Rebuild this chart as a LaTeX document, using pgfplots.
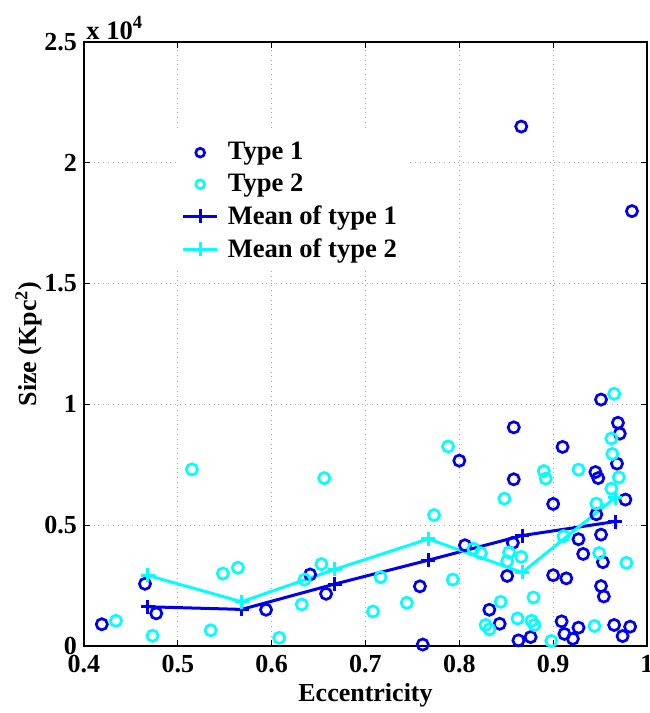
\documentclass[border=0pt]{standalone}
\usepackage{fontspec}
\setmainfont{Liberation Serif}
\usepackage{pgfplots}
\pgfplotsset{compat=1.18}
\definecolor{mblue}{rgb}{0,0,0.93}
\definecolor{mcyan}{rgb}{0,1,1}
\begin{document}
\begin{tikzpicture}
\begin{axis}[
  scale only axis,
  width=281.5pt, height=302pt,
  xmin=0.4, xmax=1, ymin=0, ymax=25000,
  xtick={0.4,0.5,0.6,0.7,0.8,0.9,1},
  xticklabels={0.4,0.5,0.6,0.7,0.8,0.9,1},
  ytick={0,5000,10000,15000,20000,25000},
  yticklabels={0,0.5,1,1.5,2,2.5},
  scaled y ticks=false,
  tick label style={font=\bfseries\fontsize{13}{15}\selectfont},
  xticklabel style={yshift=-1pt},
  label style={font=\bfseries\fontsize{13}{15}\selectfont},
  xlabel={Eccentricity},
  ylabel={Size (Kpc\textsuperscript{2})},
  xlabel style={yshift=1.5pt},
  ylabel style={yshift=-5.5pt},
  tick align=inside,
  major tick length=3pt,
  axis line style={line width=0.6pt},
  every tick/.style={black, line width=0.5pt},
  grid=major,
  major grid style={gray!70, dotted, line width=0.5pt},
  legend style={at={(rel axis cs:0.162,0.851)}, anchor=north west, draw=none, fill=white,
    font=\bfseries\fontsize{13.3}{15}\selectfont, row sep=1.5pt, inner sep=3pt,
    /tikz/every odd column/.append style={column sep=2.5pt}},
  legend cell align=left,
]
\addplot[only marks, mark=o, mblue, mark size=2.8pt, line width=1.35pt,
  legend image post style={mark size=2.2pt}] coordinates {
(0.419,900) (0.465,2575) (0.477,1350) (0.594,1500) (0.641,2960) (0.658,2160)
(0.758,2470) (0.761,60) (0.800,7670) (0.806,4170) (0.832,1500) (0.843,920)
(0.857,4270) (0.851,2900) (0.858,9050) (0.858,6900) (0.863,235) (0.866,21500)
(0.876,370) (0.900,5880) (0.900,2930) (0.914,2800) (0.910,8240) (0.927,4420)
(0.932,3810) (0.909,1020) (0.912,500) (0.921,300) (0.927,760) (0.945,7200)
(0.948,6950) (0.946,5450) (0.951,4610) (0.953,3470) (0.951,2480) (0.954,2050)
(0.951,10200) (0.969,9240) (0.971,8790) (0.968,7550) (0.977,6060) (0.965,870)
(0.974,410) (0.982,800) (0.984,18000)
};
\addlegendentry{Type 1}
\addplot[only marks, mark=o, mcyan, mark size=2.8pt, line width=1.35pt,
  legend image post style={mark size=2.2pt}] coordinates {
(0.434,1045) (0.473,425) (0.515,7310) (0.535,650) (0.548,3000) (0.564,3240)
(0.608,340) (0.632,1720) (0.635,2750) (0.653,3390) (0.656,6950) (0.708,1430)
(0.716,2850) (0.744,1790) (0.773,5420) (0.788,8260) (0.793,2750) (0.815,4030)
(0.823,3840) (0.844,1830) (0.828,870) (0.832,690) (0.848,6100) (0.853,3870)
(0.851,3510) (0.866,3690) (0.862,1140) (0.877,1045) (0.880,870) (0.879,2010)
(0.890,7240) (0.892,6930) (0.898,210) (0.911,4545) (0.927,7300) (0.944,830)
(0.946,5890) (0.949,3850) (0.965,10440) (0.962,8590) (0.963,7950) (0.970,6980)
(0.962,6510) (0.978,3440)
};
\addlegendentry{Type 2}
\addplot[mblue, line width=1.5pt, mark=+, mark size=3.5pt] coordinates {
(0.468,1624) (0.568,1515) (0.667,2562) (0.767,3553) (0.867,4572) (0.966,5150)
};
\addlegendentry{Mean of type 1}
\addplot[mcyan, line width=1.5pt, mark=+, mark size=3.5pt] coordinates {
(0.468,2920) (0.568,1831) (0.667,3168) (0.767,4433) (0.867,3043) (0.966,6142)
};
\addlegendentry{Mean of type 2}
\end{axis}
\node[anchor=south west, inner sep=1pt, font=\bfseries\fontsize{13.3}{15}\selectfont] at (current axis.north west) {x 10\textsuperscript{4}};
\pgfresetboundingbox
\path ([xshift=-42pt,yshift=-33.5pt]current axis.south west) rectangle ([xshift=1.5pt,yshift=21pt]current axis.north east);
\end{tikzpicture}
\end{document}
